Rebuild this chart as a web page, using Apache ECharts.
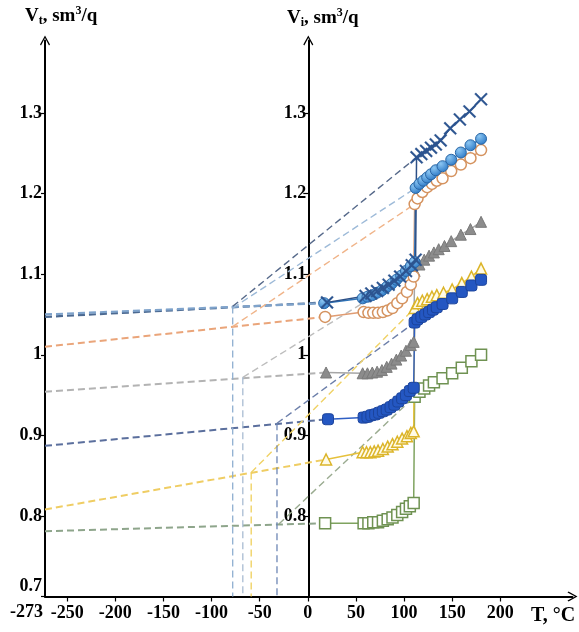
<!DOCTYPE html>
<html><head><meta charset="utf-8">
<script src="https://cdn.jsdelivr.net/npm/echarts@6/dist/echarts.min.js"></script>
<style>html,body{margin:0;padding:0;background:#fff}#c{width:579px;height:632px}</style>
</head><body><div id="c"></div>
<script>
// ---------- tick labels ----------
const xTicks = [-250, -200, -150, -100, -50, 0, 50, 100, 150, 200];
const yTicksLeft = [0.7, 0.8, 0.9, 1, 1.1, 1.2, 1.3];
const yTicksRight = [0.8, 0.9, 1, 1.1, 1.2, 1.3];

// ---------- measured series (T, °C / V, sm3/q) ----------
const crossT = [20, 60, 66, 72, 78, 84, 90, 96, 102, 108, 112, 113, 118, 123, 128, 133, 138, 148, 158, 168, 180];
const crossV = [1.065, 1.073, 1.076, 1.079, 1.083, 1.087, 1.092, 1.097, 1.104, 1.111, 1.118, 1.245, 1.249, 1.253, 1.257, 1.261, 1.266, 1.281, 1.292, 1.302, 1.317];

const blueCircT = [17, 57, 62, 67, 72, 77, 82, 87, 92, 97, 102, 107, 111, 112, 116, 120, 124, 128, 133, 140, 149, 159, 169, 180];
const blueCircV = [1.064, 1.070, 1.072, 1.074, 1.077, 1.080, 1.084, 1.088, 1.093, 1.098, 1.104, 1.110, 1.115, 1.207, 1.212, 1.216, 1.220, 1.224, 1.229, 1.234, 1.242, 1.251, 1.260, 1.268];

const openCircT = [18, 58, 63, 68, 73, 78, 83, 88, 93, 98, 103, 107, 110, 111, 114, 119, 124, 129, 134, 140, 149, 159, 169, 180];
const openCircV = [1.047, 1.053, 1.052, 1.052, 1.052, 1.053, 1.055, 1.058, 1.064, 1.070, 1.078, 1.087, 1.097, 1.187, 1.194, 1.202, 1.208, 1.212, 1.216, 1.219, 1.228, 1.236, 1.244, 1.254];

const greyTriT = [19, 57, 62, 67, 72, 77, 82, 87, 92, 97, 102, 107, 110, 111, 116, 121, 126, 131, 136, 142, 149, 159, 169, 180];
const greyTriV = [0.978, 0.977, 0.977, 0.978, 0.979, 0.981, 0.985, 0.989, 0.994, 0.999, 1.005, 1.012, 1.016, 1.104, 1.112, 1.118, 1.123, 1.127, 1.131, 1.135, 1.141, 1.149, 1.156, 1.165];

const yelTriT = [19, 57, 61, 65, 69, 73, 78, 83, 88, 93, 98, 103, 107, 110, 111, 114, 119, 124, 129, 134, 141, 150, 160, 170, 180];
const yelTriV = [0.870, 0.879, 0.879, 0.879, 0.880, 0.881, 0.883, 0.886, 0.889, 0.892, 0.896, 0.899, 0.903, 0.905, 1.058, 1.064, 1.067, 1.069, 1.072, 1.074, 1.077, 1.081, 1.089, 1.097, 1.107];

const blueSqT = [21, 58, 62, 66, 70, 74, 78, 82, 86, 90, 94, 98, 102, 106, 110, 111, 114, 118, 122, 126, 130, 134, 140, 150, 160, 170, 180];
const blueSqV = [0.920, 0.922, 0.923, 0.925, 0.926, 0.928, 0.930, 0.932, 0.935, 0.938, 0.942, 0.946, 0.950, 0.955, 0.959, 1.040, 1.044, 1.047, 1.050, 1.053, 1.056, 1.059, 1.063, 1.070, 1.078, 1.086, 1.093];

const greenSqT = [18, 58, 63, 68, 73, 78, 83, 88, 93, 98, 102, 106, 110, 111, 116, 121, 126, 131, 140, 150, 160, 170, 180];
const greenSqV = [0.791, 0.791, 0.791, 0.792, 0.792, 0.794, 0.796, 0.798, 0.801, 0.805, 0.809, 0.812, 0.816, 0.948, 0.954, 0.958, 0.962, 0.966, 0.971, 0.977, 0.984, 0.992, 1.000];

// ---------- extrapolation lines (end points, T / V) ----------
const lowCross = [[-273, 1.047], [20, 1.065]];
const lowBlueCirc = [[-273, 1.050], [17, 1.064]];
const lowOpenCirc = [[-273, 1.010], [18, 1.047]];
const lowGreyTri = [[-273, 0.954], [19, 0.978]];
const lowBlueSq = [[-273, 0.887], [21, 0.920]];
const lowYelTri = [[-273, 0.808], [19, 0.870]];
const lowGreenSq = [[-273, 0.781], [18, 0.791]];

const highCross = [[-78, 1.060], [113, 1.245]];
const highBlueCirc = [[-78, 1.058], [112, 1.207]];
const highOpenCirc = [[-78, 1.035], [111, 1.187]];
const highGreyTri = [[-67.5, 0.972], [111, 1.104]];
const highBlueSq = [[-32, 0.915], [111, 1.040]];
const highYelTri = [[-58.8, 0.854], [111, 1.058]];
const highGreenSq = [[-30, 0.790], [111, 0.948]];

const dropT = [-78, -67.5, -58.8, -32];
const dropV = [1.060, 0.972, 0.854, 0.915];

// ---------- build ----------
const FONT = '"Liberation Serif", "Times New Roman", serif';
const zip = (a, b) => a.map((t, i) => [t, b[i]]);
const fmt1 = v => String(+(+v).toFixed(1));

const dropColors = ['#8eaed0', '#a9bbd2', '#efcf5a', '#6d86b5'];

function dashed(data, color, width) {
  return {
    type: 'line', data: data, symbol: 'none', silent: true, z: 1,
    lineStyle: { color: color, width: width, type: [7, 4] }
  };
}
function marked(data, opt) {
  return Object.assign({
    type: 'line', data: data, z: 5, silent: true,
    symbolSize: 11,
    lineStyle: { width: 1.5, color: opt.line },
    itemStyle: { color: opt.fill, borderColor: opt.border, borderWidth: opt.bw || 1 }
  }, opt.extra || {});
}

const crossPath = 'path://M1,0 L5,4 L9,0 L10,1 L6,5 L10,9 L9,10 L5,6 L1,10 L0,9 L4,5 L0,1 Z';
const arrowPath = 'path://M5,0 L10,9 L9,10 L5,2.5 L1,10 L0,9 Z';

const series = [
  dashed(lowCross, '#4b6991', 2.2),
  dashed(lowBlueCirc, '#7fa3cb', 2.2),
  dashed(lowOpenCirc, '#eaa57a', 2),
  dashed(lowGreyTri, '#b3b3b3', 2),
  dashed(lowBlueSq, '#5b6f9d', 2),
  dashed(lowYelTri, '#efcd63', 2),
  dashed(lowGreenSq, '#8ea58b', 2),
  dashed(highCross, '#56698a', 1.4),
  dashed(highBlueCirc, '#9dbad8', 1.4),
  dashed(highOpenCirc, '#f0b489', 1.4),
  dashed(highGreyTri, '#bdbdbd', 1.4),
  dashed(highBlueSq, '#6c7faa', 1.4),
  dashed(highYelTri, '#f0d266', 1.4),
  dashed(highGreenSq, '#9aab90', 1.4)
];
dropT.forEach((t, i) => {
  series.push(dashed([[t, dropV[i]], [t, 0.7]], dropColors[i], 1.3));
});

series.push(marked(zip(greenSqT, greenSqV), { line: '#7fa35f', fill: '#ffffff', border: '#6f9252', bw: 1.5,
  extra: { symbol: 'rect', symbolSize: 11 } }));
series.push(marked(zip(yelTriT, yelTriV), { line: '#e6c13c', fill: '#fffbe6', border: '#dcb52a', bw: 1.5,
  extra: { symbol: 'triangle', symbolSize: 11 } }));
series.push(marked(zip(greyTriT, greyTriV), { line: '#a6a6a6', fill: '#8c8c8c', border: '#7a7a7a', bw: 1,
  extra: { symbol: 'triangle', symbolSize: 11 } }));
series.push(marked(zip(blueSqT, blueSqV), { line: '#2f5fc4', fill: '#2457c2', border: '#1c449c', bw: 1,
  extra: { symbol: 'roundRect', symbolSize: 11 } }));
series.push(marked(zip(openCircT, openCircV), { line: '#e09c72', fill: '#ffffff', border: '#d5935f', bw: 1.5,
  extra: { symbol: 'circle', symbolSize: 11 } }));
series.push(marked(zip(blueCircT, blueCircV), { line: '#2f74b8',
  fill: new echarts.graphic.RadialGradient(0.35, 0.3, 0.75, [{ offset: 0, color: '#8cc6f2' }, { offset: 1, color: '#2a78c6' }]),
  border: '#2a67a6', bw: 1, extra: { symbol: 'circle', symbolSize: 11 } }));
series.push(marked(zip(crossT, crossV), { line: '#2c4f86', fill: '#2c5490', border: '#2c5490', bw: 0.3,
  extra: { symbol: crossPath, symbolSize: 13 } }));

const labelBase = { fontFamily: FONT, fontWeight: 'bold', fontSize: 18, color: '#000' };

const option = {
  animation: false,
  backgroundColor: '#fff',
  grid: { left: 45, right: 6.5, top: 40.5, bottom: 35.5, containLabel: false },
  xAxis: {
    type: 'value', min: -273, max: 275,
    splitLine: { show: false },
    axisLine: { onZero: false, lineStyle: { color: '#000', width: 2 }, symbol: ['none', arrowPath], symbolSize: [11, 10] },
    axisTick: { show: true, length: 5, lineStyle: { color: '#000', width: 1.2 }, customValues: xTicks },
    axisLabel: Object.assign({ margin: 8, customValues: xTicks, formatter: v => String(v) }, labelBase)
  },
  yAxis: [{
    type: 'value', min: 0.7, max: 1.39, position: 'left',
    splitLine: { show: false },
    axisLine: { onZero: false, lineStyle: { color: '#000', width: 2 }, symbol: ['none', arrowPath], symbolSize: [11, 10] },
    axisTick: { show: true, length: 4, lineStyle: { color: '#000', width: 1.2 }, customValues: yTicksLeft },
    axisLabel: Object.assign({
      margin: 3, customValues: yTicksLeft,
      formatter: v => Math.abs(v - 0.7) < 1e-6 ? '{u|0.7}' : fmt1(v),
      rich: { u: { fontFamily: FONT, fontWeight: 'bold', fontSize: 18, color: '#000', padding: [0, 0, 20, 0] } }
    }, labelBase)
  }, {
    type: 'value', min: 0.7, max: 1.39, position: 'left', offset: -263.3,
    splitLine: { show: false },
    axisLine: { onZero: false, lineStyle: { color: '#000', width: 2 }, symbol: ['none', arrowPath], symbolSize: [11, 10] },
    axisTick: { show: true, length: 5, lineStyle: { color: '#000', width: 1.2 }, customValues: yTicksRight },
    axisLabel: Object.assign({ margin: 2, customValues: yTicksRight, formatter: v => fmt1(v) }, labelBase)
  }],
  series: series,
  graphic: [
    { type: 'text', x: 43, y: 612, style: { text: '-273', align: 'right', verticalAlign: 'middle', font: 'bold 18px ' + FONT, fill: '#000' } },
    { type: 'text', x: 531, y: 616, style: { text: 'T, °C', align: 'left', verticalAlign: 'middle', font: 'bold 20px ' + FONT, fill: '#000' } },
    { type: 'text', x: 25, y: 5, style: {
      text: '{a|V}{s|t}{a|, sm}{p|3}{a|/q}',
      rich: {
        a: { fontFamily: FONT, fontWeight: 'bold', fontSize: 19, fill: '#000', lineHeight: 22 },
        s: { fontFamily: FONT, fontWeight: 'bold', fontSize: 12, fill: '#000', lineHeight: 14, verticalAlign: 'bottom' },
        p: { fontFamily: FONT, fontWeight: 'bold', fontSize: 12, fill: '#000', lineHeight: 14, verticalAlign: 'top' }
      } } },
    { type: 'text', x: 287, y: 7, style: {
      text: '{a|V}{s|i}{a|, sm}{p|3}{a|/q}',
      rich: {
        a: { fontFamily: FONT, fontWeight: 'bold', fontSize: 19, fill: '#000', lineHeight: 22 },
        s: { fontFamily: FONT, fontWeight: 'bold', fontSize: 12, fill: '#000', lineHeight: 14, verticalAlign: 'bottom' },
        p: { fontFamily: FONT, fontWeight: 'bold', fontSize: 12, fill: '#000', lineHeight: 14, verticalAlign: 'top' }
      } } }
  ]
};

const chart = echarts.init(document.getElementById('c'), null, { renderer: 'canvas' });
chart.setOption(option);
</script>
</body></html>
